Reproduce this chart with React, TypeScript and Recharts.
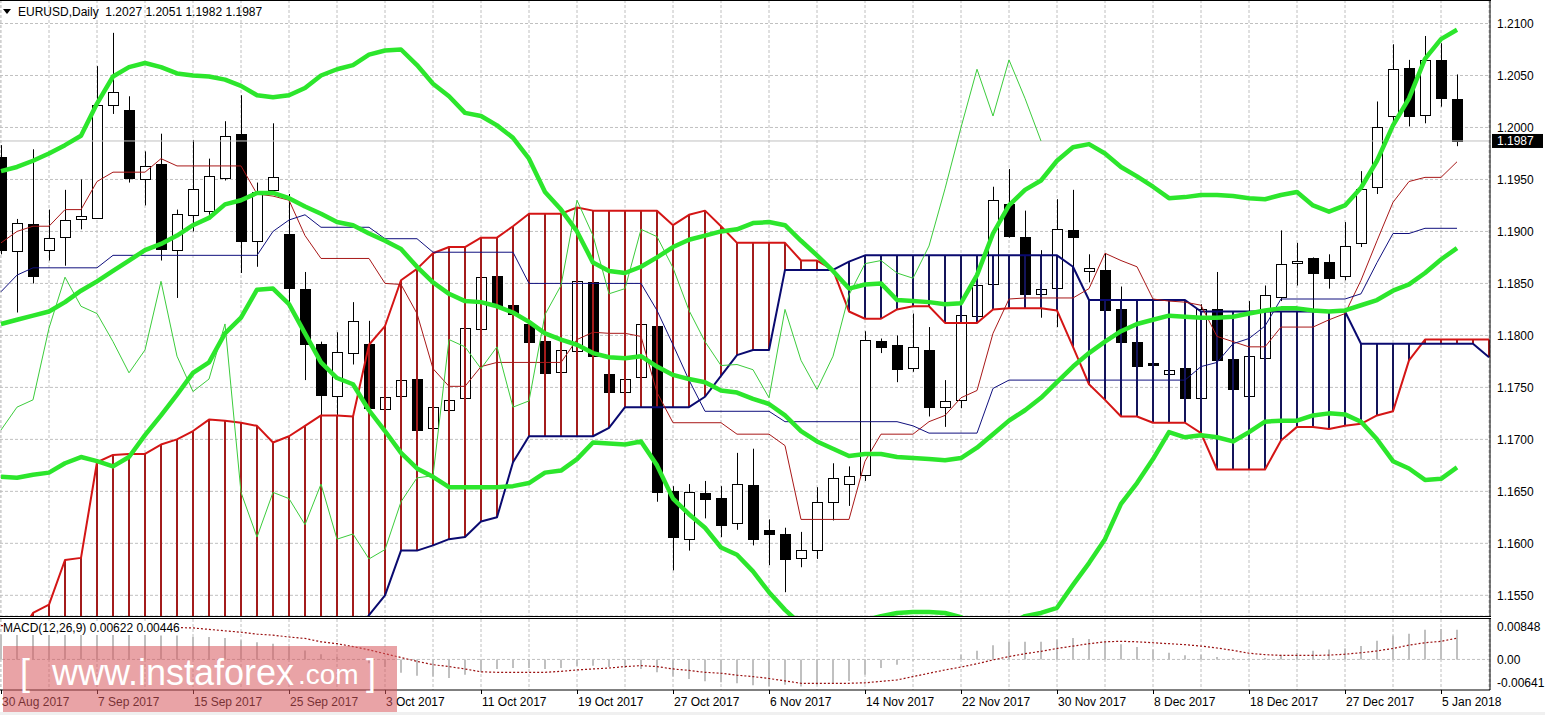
import React from 'react';
import { ComposedChart, Bar, Line, XAxis, YAxis, CartesianGrid, ReferenceLine } from 'recharts';

// EURUSD daily, 30 Aug 2017 .. 8 Jan 2018 (index 0 = 30 Aug)
const opens = [
  1.1972, 1.1881, 1.1907, 1.1882, 1.1895, 1.1912, 1.1913, 1.2022, 1.2017, 1.1950,
  1.1965, 1.1882, 1.1916, 1.1920, 1.1951, 1.1994, 1.1891, 1.1940, 1.1898, 1.1845,
  1.1792, 1.1742, 1.1783, 1.1792, 1.1729, 1.1742, 1.1758, 1.1711, 1.1728, 1.1740,
  1.1806, 1.1857, 1.1829, 1.1811, 1.1795, 1.1765, 1.1785, 1.1851, 1.1763, 1.1746,
  1.1760, 1.1809, 1.1650, 1.1604, 1.1648, 1.1644, 1.1620, 1.1656, 1.1613, 1.1609,
  1.1586, 1.1594, 1.1640, 1.1657, 1.1666, 1.1795, 1.1791, 1.1769, 1.1786, 1.1731,
  1.1738, 1.1819, 1.1849, 1.1926, 1.1895, 1.1840, 1.1846, 1.1901, 1.1862, 1.1863,
  1.1825, 1.1794, 1.1773, 1.1763, 1.1769, 1.1740, 1.1825, 1.1777, 1.1742, 1.1778,
  1.1837, 1.1870, 1.1874, 1.1871, 1.1857, 1.1889, 1.1943, 1.2011, 1.2057, 1.2012,
  1.2065, 1.2027,
];
const highs = [
  1.1983, 1.1912, 1.1979, 1.1921, 1.1940, 1.1950, 1.2059, 1.2091, 1.2030, 1.1977,
  1.1994, 1.1921, 1.1988, 1.1970, 1.2006, 1.2031, 1.1947, 1.2004, 1.1936, 1.1861,
  1.1794, 1.1803, 1.1832, 1.1814, 1.1770, 1.1790, 1.1768, 1.1735, 1.1760, 1.1809,
  1.1880, 1.1873, 1.1860, 1.1833, 1.1806, 1.1800, 1.1860, 1.1863, 1.1790, 1.1786,
  1.1829, 1.1837, 1.1655, 1.1657, 1.1660, 1.1655, 1.1687, 1.1691, 1.1623, 1.1615,
  1.1611, 1.1654, 1.1677, 1.1674, 1.1804, 1.1797, 1.1800, 1.1821, 1.1808, 1.1757,
  1.1821, 1.1865, 1.1943, 1.1960, 1.1920, 1.1882, 1.1931, 1.1940, 1.1878, 1.1879,
  1.1847, 1.1810, 1.1800, 1.1785, 1.1780, 1.1830, 1.1861, 1.1800, 1.1833, 1.1848,
  1.1901, 1.1889, 1.1875, 1.1878, 1.1909, 1.1958, 1.2025, 1.2080, 1.2065, 1.2088,
  1.2081, 1.2051,
];
const lows = [
  1.1878, 1.1822, 1.1850, 1.1872, 1.1867, 1.1902, 1.1912, 1.2013, 1.1947, 1.1925,
  1.1872, 1.1836, 1.1900, 1.1916, 1.1949, 1.1860, 1.1866, 1.1938, 1.1832, 1.1757,
  1.1723, 1.1723, 1.1772, 1.1729, 1.1718, 1.1728, 1.1703, 1.1669, 1.1714, 1.1733,
  1.1795, 1.1821, 1.1811, 1.1786, 1.1730, 1.1752, 1.1770, 1.1776, 1.1728, 1.1730,
  1.1738, 1.1640, 1.1574, 1.1593, 1.1624, 1.1606, 1.1613, 1.1598, 1.1579, 1.1553,
  1.1577, 1.1585, 1.1622, 1.1636, 1.1660, 1.1783, 1.1755, 1.1765, 1.1722, 1.1712,
  1.1730, 1.1815, 1.1845, 1.1894, 1.1835, 1.1817, 1.1808, 1.1858, 1.1851, 1.1820,
  1.1790, 1.1760, 1.1745, 1.1750, 1.1730, 1.1735, 1.1770, 1.1735, 1.1740, 1.1772,
  1.1833, 1.1848, 1.1823, 1.1845, 1.1853, 1.1885, 1.1936, 1.2005, 1.2001, 1.2004,
  1.2020, 1.1982,
];
const closes = [
  1.1882, 1.1908, 1.1857, 1.1894, 1.1911, 1.1915, 1.2022, 1.2034, 1.1951, 1.1963,
  1.1883, 1.1917, 1.1941, 1.1953, 1.1992, 1.1891, 1.1938, 1.1952, 1.1846, 1.1792,
  1.1743, 1.1784, 1.1814, 1.1730, 1.1741, 1.1757, 1.1709, 1.1731, 1.1738, 1.1807,
  1.1856, 1.1828, 1.1821, 1.1794, 1.1764, 1.1786, 1.1852, 1.1780, 1.1746, 1.1758,
  1.1811, 1.1649, 1.1606, 1.1649, 1.1643, 1.1618, 1.1657, 1.1604, 1.1609, 1.1585,
  1.1594, 1.1640, 1.1663, 1.1665, 1.1796, 1.1789, 1.1768, 1.1789, 1.1731, 1.1737,
  1.1820, 1.1848, 1.1930, 1.1896, 1.1840, 1.1845, 1.1902, 1.1895, 1.1865, 1.1824,
  1.1794, 1.1771, 1.1772, 1.1767, 1.1740, 1.1825, 1.1776, 1.1748, 1.1780, 1.1839,
  1.1869, 1.1872, 1.1860, 1.1855, 1.1886, 1.1941, 1.2000, 1.2056, 1.2011, 1.2065,
  1.2028, 1.1987,
];

// Ichimoku
const tenkan = [
  1.1889, 1.1900, 1.1905, 1.1905, 1.1921, 1.1921, 1.1948, 1.1957, 1.1957, 1.1957,
  1.1970, 1.1963, 1.1963, 1.1963, 1.1963, 1.1963, 1.1936, 1.1934, 1.1930, 1.1896,
  1.1874, 1.1874, 1.1874, 1.1874, 1.1850, 1.1849, 1.1821, 1.1768, 1.1751, 1.1751,
  1.1770, 1.1774, 1.1774, 1.1774, 1.1774, 1.1774, 1.1796, 1.1803, 1.1802, 1.1802,
  1.1799, 1.1745, 1.1716, 1.1716, 1.1716, 1.1716, 1.1705, 1.1705, 1.1705, 1.1694,
  1.1623, 1.1623, 1.1623, 1.1623, 1.1679, 1.1705, 1.1705, 1.1705, 1.1717, 1.1723,
  1.1740, 1.1747, 1.1802, 1.1835, 1.1836, 1.1836, 1.1836, 1.1836, 1.1845, 1.1879,
  1.1872, 1.1866, 1.1835, 1.1833, 1.1832, 1.1829, 1.1799, 1.1794, 1.1789, 1.1789,
  1.1808, 1.1808, 1.1808, 1.1815, 1.1821, 1.1853, 1.1891, 1.1928, 1.1948, 1.1952,
  1.1952, 1.1967,
];
const kijun = [
  1.1842, 1.1858, 1.1865, 1.1865, 1.1865, 1.1865, 1.1865, 1.1877, 1.1877, 1.1877,
  1.1877, 1.1877, 1.1877, 1.1877, 1.1877, 1.1877, 1.1877, 1.1900, 1.1911, 1.1916,
  1.1904, 1.1904, 1.1904, 1.1904, 1.1893, 1.1893, 1.1893, 1.1880, 1.1880, 1.1880,
  1.1880, 1.1880, 1.1880, 1.1850, 1.1850, 1.1850, 1.1850, 1.1850, 1.1850, 1.1850,
  1.1850, 1.1824, 1.1791, 1.1757, 1.1727, 1.1727, 1.1727, 1.1727, 1.1727, 1.1717,
  1.1717, 1.1717, 1.1717, 1.1717, 1.1717, 1.1717, 1.1717, 1.1713, 1.1706, 1.1706,
  1.1706, 1.1706, 1.1749, 1.1757, 1.1757, 1.1757, 1.1757, 1.1757, 1.1757, 1.1757,
  1.1757, 1.1757, 1.1757, 1.1757, 1.1757, 1.1770, 1.1774, 1.1792, 1.1797, 1.1809,
  1.1835, 1.1835, 1.1835, 1.1835, 1.1835, 1.1840, 1.1870, 1.1898, 1.1898, 1.1903,
  1.1903, 1.1903,
];
// senkou spans run two bars past the last candle inside the visible window
const senkouA = [
  1.1490, 1.1508, 1.1533, 1.1541, 1.1584, 1.1586, 1.1678, 1.1685, 1.1686, 1.1686,
  1.1695, 1.1700, 1.1708, 1.1719, 1.1718, 1.1716, 1.1713, 1.1697, 1.1703, 1.1713,
  1.1723, 1.1723, 1.1722, 1.1791, 1.1809, 1.1853, 1.1864, 1.1879, 1.1885, 1.1885,
  1.1894, 1.1894, 1.1905, 1.1917, 1.1917, 1.1917, 1.1923, 1.1920, 1.1920, 1.1920,
  1.1920, 1.1920, 1.1906, 1.1916, 1.1920, 1.1905, 1.1889, 1.1889, 1.1889, 1.1889,
  1.1872, 1.1872, 1.1863, 1.1823, 1.1816, 1.1816, 1.1825, 1.1828, 1.1828, 1.1812,
  1.1812, 1.1812, 1.1825, 1.1826, 1.1826, 1.1826, 1.1824, 1.1789, 1.1753, 1.1738,
  1.1722, 1.1722, 1.1716, 1.1716, 1.1716, 1.1706, 1.1671, 1.1671, 1.1671, 1.1671,
  1.1699, 1.1712, 1.1712, 1.1710, 1.1713, 1.1715, 1.1723, 1.1727, 1.1776, 1.1796,
  1.1796, 1.1796, 1.1796, 1.1796,
];
const senkouB = [
  1.1440, 1.1440, 1.1440, 1.1445, 1.1445, 1.1450, 1.1450, 1.1450, 1.1455, 1.1455,
  1.1460, 1.1460, 1.1465, 1.1465, 1.1470, 1.1470, 1.1475, 1.1480, 1.1480, 1.1485,
  1.1490, 1.1495, 1.1505, 1.1531, 1.1550, 1.1593, 1.1593, 1.1598, 1.1604, 1.1606,
  1.1621, 1.1625, 1.1678, 1.1703, 1.1703, 1.1703, 1.1703, 1.1703, 1.1711, 1.1731,
  1.1731, 1.1731, 1.1731, 1.1731, 1.1741, 1.1761, 1.1781, 1.1786, 1.1786, 1.1863,
  1.1863, 1.1863, 1.1863, 1.1871, 1.1877, 1.1877, 1.1877, 1.1877, 1.1877, 1.1877,
  1.1877, 1.1877, 1.1877, 1.1877, 1.1877, 1.1877, 1.1877, 1.1866, 1.1834, 1.1834,
  1.1834, 1.1834, 1.1834, 1.1834, 1.1834, 1.1823, 1.1823, 1.1823, 1.1823, 1.1823,
  1.1823, 1.1823, 1.1823, 1.1823, 1.1823, 1.1792, 1.1792, 1.1792, 1.1792, 1.1792,
  1.1792, 1.1792, 1.1792, 1.1779,
];
// chikou span, plotted 26 bars back
const chikou = [
  1.1709, 1.1731, 1.1738, 1.1807, 1.1856, 1.1828, 1.1821, 1.1794, 1.1764, 1.1786,
  1.1852, 1.1780, 1.1746, 1.1758, 1.1811, 1.1649, 1.1606, 1.1649, 1.1643, 1.1618,
  1.1657, 1.1604, 1.1609, 1.1585, 1.1594, 1.1640, 1.1663, 1.1665, 1.1796, 1.1789,
  1.1768, 1.1789, 1.1731, 1.1737, 1.1820, 1.1848, 1.1930, 1.1896, 1.1840, 1.1845,
  1.1902, 1.1895, 1.1865, 1.1824, 1.1794, 1.1771, 1.1772, 1.1767, 1.1740, 1.1825,
  1.1776, 1.1748, 1.1780, 1.1839, 1.1869, 1.1872, 1.1860, 1.1855, 1.1886, 1.1941,
  1.2000, 1.2056, 1.2011, 1.2065, 1.2028, 1.1987,
];

// Bollinger bands (20, 2)
const bbUpper = [
  1.1958, 1.1962, 1.1968, 1.1975, 1.1983, 1.1992, 1.2023, 1.2049, 1.2058, 1.2062,
  1.2058, 1.2052, 1.2050, 1.2049, 1.2046, 1.2040, 1.2031, 1.2029, 1.2031, 1.2038,
  1.2050, 1.2056, 1.2060, 1.2070, 1.2074, 1.2075, 1.2060, 1.2042, 1.2030, 1.2014,
  1.2011, 1.2002, 1.1990, 1.1970, 1.1938, 1.1921, 1.1900, 1.1870, 1.1862, 1.1860,
  1.1866, 1.1875, 1.1885, 1.1892, 1.1896, 1.1900, 1.1902, 1.1908, 1.1909, 1.1906,
  1.1891, 1.1877, 1.1862, 1.1845, 1.1849, 1.1850, 1.1834, 1.1833, 1.1832, 1.1830,
  1.1831, 1.1858, 1.1898, 1.1925, 1.1940, 1.1949, 1.1968, 1.1981, 1.1984, 1.1975,
  1.1962, 1.1953, 1.1943, 1.1932, 1.1933, 1.1935, 1.1935, 1.1934, 1.1932, 1.1931,
  1.1935, 1.1938, 1.1925, 1.1919, 1.1925, 1.1942, 1.1968, 1.2002, 1.2028, 1.2066,
  1.2085, 1.2094,
];
const bbMiddle = [
  1.1811, 1.1815, 1.1819, 1.1823, 1.1832, 1.1843, 1.1852, 1.1862, 1.1872, 1.1882,
  1.1888, 1.1896, 1.1906, 1.1913, 1.1926, 1.1930, 1.1937, 1.1937, 1.1932, 1.1924,
  1.1917, 1.1909, 1.1906, 1.1898, 1.1891, 1.1883, 1.1866, 1.1851, 1.1840, 1.1833,
  1.1832, 1.1828, 1.1822, 1.1813, 1.1802, 1.1796, 1.1791, 1.1783, 1.1779, 1.1778,
  1.1780, 1.1770, 1.1762, 1.1758, 1.1755, 1.1747, 1.1745, 1.1739, 1.1734, 1.1723,
  1.1708, 1.1698, 1.1691, 1.1684, 1.1686, 1.1686, 1.1683, 1.1682, 1.1681, 1.1680,
  1.1682, 1.1692, 1.1705, 1.1718, 1.1728, 1.1740, 1.1755, 1.1770, 1.1783, 1.1794,
  1.1804, 1.1811, 1.1815, 1.1819, 1.1818, 1.1817, 1.1817, 1.1818, 1.1821, 1.1824,
  1.1826, 1.1826, 1.1824, 1.1823, 1.1824, 1.1829, 1.1834, 1.1843, 1.1849, 1.1860,
  1.1873, 1.1884,
];
const bbLower = [
  1.1664, 1.1663, 1.1666, 1.1668, 1.1677, 1.1683, 1.1679, 1.1674, 1.1683, 1.1704,
  1.1723, 1.1743, 1.1764, 1.1774, 1.1802, 1.1817, 1.1844, 1.1845, 1.1830, 1.1802,
  1.1774, 1.1759, 1.1753, 1.1728, 1.1708, 1.1687, 1.1672, 1.1664, 1.1654, 1.1654,
  1.1654, 1.1654, 1.1655, 1.1658, 1.1668, 1.1670, 1.1681, 1.1697, 1.1696, 1.1695,
  1.1698, 1.1675, 1.1643, 1.1628, 1.1615, 1.1596, 1.1589, 1.1573, 1.1553, 1.1536,
  1.1522, 1.1510, 1.1505, 1.1515, 1.1526, 1.1530, 1.1533, 1.1534, 1.1534, 1.1533,
  1.1529, 1.1520, 1.1515, 1.1522, 1.1530, 1.1533, 1.1538, 1.1560, 1.1581, 1.1604,
  1.1638, 1.1658, 1.1681, 1.1707, 1.1702, 1.1704, 1.1702, 1.1698, 1.1707, 1.1717,
  1.1718, 1.1718, 1.1723, 1.1725, 1.1724, 1.1717, 1.1700, 1.1679, 1.1672, 1.1661,
  1.1662, 1.1673,
];

// MACD(12,26,9)
const macdMain = [
  0.0052, 0.0053, 0.0054, 0.0052, 0.0052, 0.0052, 0.0058, 0.0061, 0.0058, 0.0055,
  0.0050, 0.0050, 0.0047, 0.0047, 0.0045, 0.0040, 0.0036, 0.0033, 0.0027, 0.0019,
  0.0011, 0.0005, 0.0001, -0.0008, -0.0016, -0.0028, -0.0034, -0.0036, -0.0039, -0.0032,
  -0.0027, -0.0020, -0.0018, -0.0018, -0.0020, -0.0018, -0.0014, -0.0013, -0.0016, -0.0018,
  -0.0020, -0.0027, -0.0036, -0.0041, -0.0046, -0.0048, -0.0050, -0.0054, -0.0056, -0.0053,
  -0.0057, -0.0054, -0.0051, -0.0045, -0.0032, -0.0018, -0.0011, -0.0003, -0.0001, 0.0001,
  0.0010, 0.0018, 0.0030, 0.0037, 0.0037, 0.0037, 0.0042, 0.0045, 0.0043, 0.0037,
  0.0032, 0.0026, 0.0021, 0.0014, 0.0009, 0.0010, 0.0005, 0.0003, 0.0002, 0.0003,
  0.0010, 0.0014, 0.0018, 0.0021, 0.0023, 0.0028, 0.0039, 0.0050, 0.0054, 0.0062,
  0.0064, 0.00622,
];
const macdSignal = [
  0.0071, 0.0071, 0.0070, 0.0070, 0.0070, 0.0069, 0.0069, 0.0069, 0.0069, 0.0069,
  0.0068, 0.0067, 0.0066, 0.0063, 0.0060, 0.0057, 0.0053, 0.0051, 0.0047, 0.0044,
  0.0037, 0.0033, 0.0027, 0.0020, 0.0012, 0.0004, -0.0004, -0.0011, -0.0015, -0.0020,
  -0.0026, -0.0027, -0.0027, -0.0027, -0.0027, -0.0025, -0.0022, -0.0020, -0.0018, -0.0015,
  -0.0013, -0.0015, -0.0020, -0.0023, -0.0027, -0.0029, -0.0033, -0.0036, -0.0040, -0.0045,
  -0.0050, -0.0050, -0.0050, -0.0050, -0.0049, -0.0046, -0.0043, -0.0036, -0.0029, -0.0022,
  -0.0016, -0.0009, -0.0001, 0.0006, 0.0012, 0.0017, 0.0023, 0.0028, 0.0033, 0.0037,
  0.0038, 0.0037, 0.0035, 0.0033, 0.0031, 0.0028, 0.0024, 0.0019, 0.0013, 0.0010,
  0.00085, 0.00085, 0.00085, 0.0009, 0.0011, 0.0014, 0.0018, 0.0023, 0.0030, 0.0035,
  0.0038, 0.00446,
];

const dateLabels = [
  '30 Aug 2017', '7 Sep 2017', '15 Sep 2017', '25 Sep 2017', '3 Oct 2017', '11 Oct 2017',
  '19 Oct 2017', '27 Oct 2017', '6 Nov 2017', '14 Nov 2017', '22 Nov 2017', '30 Nov 2017',
  '8 Dec 2017', '18 Dec 2017', '27 Dec 2017', '5 Jan 2018',
];
const dateLabelBars = [0, 6, 12, 18, 24, 30, 36, 42, 48, 54, 60, 66, 72, 78, 84, 90];
const gridBars = [
  0, 3, 6, 9, 12, 15, 18, 21, 24, 27, 30, 33, 36, 39, 42, 45,
  48, 51, 54, 57, 60, 63, 66, 69, 72, 75, 78, 81, 84, 87, 90, 93,
];
const priceTicks = [1.155, 1.16, 1.165, 1.17, 1.175, 1.18, 1.185, 1.19, 1.195, 1.2, 1.205, 1.21];
const macdTicks = [0.00848, 0, -0.00641];
const macdTickLabels = ['0.00848', '0.00', '-0.00641'];

const FONT = '"Liberation Sans", Arial, Helvetica, sans-serif';
const GRID = '#c0c0c0';
const BB_GREEN = '#2ce62c';
const HATCH_RED = '#a31c1c';
const HATCH_NAVY = '#14145a';
const PAD = { left: -7, right: -7 };

const labelAt: Record<number, string> = {};
dateLabelBars.forEach((b, n) => { labelAt[b] = dateLabels[n]; });

const rows = senkouA.map((a, i) => {
  const b = senkouB[i];
  const has = opens[i] !== undefined;
  return {
    i,
    o: has ? opens[i] : null,
    c: has ? closes[i] : null,
    wick: has ? [lows[i], highs[i]] : null,
    body: has ? [Math.min(opens[i], closes[i]), Math.max(opens[i], closes[i])] : null,
    cloud: [Math.min(a, b), Math.max(a, b)],
    spanA: a,
    spanB: b,
    tenkan: tenkan[i] ?? null,
    kijun: kijun[i] ?? null,
    chikou: chikou[i] ?? null,
    bbUp: bbUpper[i] ?? null,
    bbMid: bbMiddle[i] ?? null,
    bbLow: bbLower[i] ?? null,
    macd: macdMain[i] ?? null,
    signal: macdSignal[i] ?? null,
  };
});

const last = closes.length - 1;

const WickShape = (props: any) => {
  const { x, y, width, height, payload } = props;
  if (!payload || payload.o == null || !Number.isFinite(y) || !Number.isFinite(height)) return <g />;
  const top = Math.min(y, y + height);
  const bottom = Math.max(y, y + height);
  const cx = Math.floor(x + width / 2) + 0.5;
  return <line x1={cx} x2={cx} y1={top} y2={bottom} stroke="#000" strokeWidth={1} />;
};

const BodyShape = (props: any) => {
  const { x, y, width, height, payload } = props;
  if (!payload || payload.o == null || !Number.isFinite(y) || !Number.isFinite(height)) return <g />;
  const top = Math.round(Math.min(y, y + height));
  const bottom = Math.round(Math.max(y, y + height));
  const bull = payload.c >= payload.o;
  return (
    <rect
      x={Math.round(x) + 0.5}
      y={top + 0.5}
      width={Math.round(width)}
      height={Math.max(bottom - top, 1)}
      fill={bull ? '#fff' : '#000'}
      stroke="#000"
      strokeWidth={1}
    />
  );
};

const HatchShape = (props: any) => {
  const { x, y, width, height, payload } = props;
  if (!payload || !Number.isFinite(y) || !Number.isFinite(height)) return <g />;
  const top = Math.min(y, y + height);
  const bottom = Math.max(y, y + height);
  return (
    <rect
      x={x}
      y={top}
      width={width}
      height={bottom - top}
      fill={payload.spanA >= payload.spanB ? HATCH_RED : HATCH_NAVY}
    />
  );
};

const PriceTag = (props: any) => {
  const vb = props.viewBox || {};
  const x = (vb.x || 0) + (vb.width || 0);
  const y = vb.y || 0;
  return (
    <g>
      <rect x={x + 2} y={y - 7} width={51} height={14} fill="#000" />
      <text x={x + 7} y={y + 4.5} fill="#fff" fontSize={12} fontFamily={FONT}>
        {closes[last].toFixed(4)}
      </text>
    </g>
  );
};

// x, y arrive in the MACD chart's own svg coordinates
const DateTick = (props: any) => {
  const { x, y, payload } = props;
  const label = labelAt[payload.value];
  if (!label) return <g />;
  return (
    <g>
      <line x1={x + 0.5} x2={x + 0.5} y1={y - 2} y2={y + 2} stroke="#000" />
      <text x={x + 1} y={y + 14} fontSize={12} fontFamily={FONT} fill="#000">{label}</text>
    </g>
  );
};

const MacdTick = (props: any) => {
  const { x, y, payload } = props;
  const n = macdTicks.indexOf(payload.value);
  const dy = n === 0 ? 12 : n === 2 ? -3 : 4.5;
  return (
    <text x={x} y={y + dy} fontSize={12} fontFamily={FONT} fill="#000">
      {n >= 0 ? macdTickLabels[n] : ''}
    </text>
  );
};

const line = (key: string, stroke: string, width: number, extra: any = {}) => (
  <Line
    key={key}
    dataKey={key}
    type="linear"
    stroke={stroke}
    strokeWidth={width}
    dot={false}
    activeDot={false}
    isAnimationActive={false}
    strokeLinejoin="round"
    {...extra}
  />
);

export default function App() {
  return (
    <div
      style={{
        position: 'absolute', left: 0, top: 0, width: 1545, height: 715,
        background: '#fff', overflow: 'hidden', fontFamily: FONT,
      }}
    >
      <div style={{ position: 'absolute', left: 0, top: 0 }}>
        <ComposedChart width={1545} height={616} data={rows} margin={{ top: 0, right: 0, bottom: 0, left: 0 }}>
          <CartesianGrid stroke={GRID} strokeDasharray="3 2" />
          <XAxis dataKey="i" type="category" scale="band" hide padding={PAD} ticks={gridBars} interval={0} />
          <XAxis xAxisId="w" dataKey="i" type="category" scale="band" hide padding={PAD} />
          <XAxis xAxisId="b" dataKey="i" type="category" scale="band" hide padding={PAD} />
          <YAxis
            orientation="right"
            width={55}
            domain={[1.15301, 1.21226]}
            allowDataOverflow
            ticks={priceTicks}
            interval={0}
            tickFormatter={(v: number) => v.toFixed(4)}
            axisLine={{ stroke: '#000' }}
            tickLine={false}
            tickSize={0}
            tickMargin={7}
            tick={{ fill: '#000', fontSize: 12, fontFamily: FONT }}
          />
          <ReferenceLine y={closes[last]} stroke={GRID} strokeWidth={1} label={(p: any) => <PriceTag {...p} />} />
          <Bar xAxisId="w" dataKey="wick" barSize={2} shape={<WickShape />} isAnimationActive={false} />
          <Bar xAxisId="b" dataKey="body" barSize={10} shape={<BodyShape />} isAnimationActive={false} />
          <Bar dataKey="cloud" barSize={2} shape={<HatchShape />} isAnimationActive={false} />
          {line('spanA', '#d41515', 2)}
          {line('spanB', '#0a0a70', 2)}
          {line('tenkan', '#a81818', 1)}
          {line('kijun', '#10107e', 1)}
          {line('chikou', '#3ccc3c', 1)}
          {line('bbUp', BB_GREEN, 4.5)}
          {line('bbMid', BB_GREEN, 4.5)}
          {line('bbLow', BB_GREEN, 4.5)}
        </ComposedChart>
      </div>

      <div style={{ position: 'absolute', left: 0, top: 619 }}>
        <ComposedChart width={1545} height={96} data={rows} margin={{ top: 0, right: 0, bottom: 0, left: 0 }}>
          <CartesianGrid stroke={GRID} strokeDasharray="3 2" horizontal={false} />
          <XAxis
            dataKey="i"
            type="category"
            scale="band"
            padding={PAD}
            ticks={gridBars}
            interval={0}
            height={25}
            axisLine={{ stroke: '#000' }}
            tickLine={false}
            tickSize={0}
            tickMargin={2}
            tick={<DateTick />}
          />
          <YAxis
            orientation="right"
            width={55}
            domain={[-0.00641, 0.00848]}
            allowDataOverflow
            ticks={macdTicks}
            interval={0}
            axisLine={{ stroke: '#000' }}
            tickLine={false}
            tickSize={0}
            tickMargin={7}
            tick={<MacdTick />}
          />
          <ReferenceLine y={0} stroke={GRID} strokeDasharray="3 2" />
          <Bar dataKey="macd" fill="#c0c0c0" barSize={2} isAnimationActive={false} />
          {line('signal', '#9a1010', 1.2, { strokeDasharray: '2 2' })}
        </ComposedChart>
      </div>

      {/* frame lines */}
      <div style={{ position: 'absolute', left: 0, top: 0, width: 1491, height: 1, background: '#000' }} />
      <div style={{ position: 'absolute', left: 0, top: 616, width: 1491, height: 1, background: '#000' }} />
      <div style={{ position: 'absolute', left: 0, top: 618, width: 1491, height: 1, background: '#000' }} />
      <div style={{ position: 'absolute', left: 0, top: 712, width: 1545, height: 3, background: '#f0f0f0' }} />

      {/* header */}
      <div
        style={{
          position: 'absolute', left: 3, top: 9, width: 0, height: 0,
          borderLeft: '4px solid transparent', borderRight: '4px solid transparent', borderTop: '5px solid #000',
        }}
      />
      <div style={{ position: 'absolute', left: 18, top: 5, fontSize: 12, whiteSpace: 'pre', color: '#000' }}>
        {`EURUSD,Daily  ${opens[last].toFixed(4)} ${highs[last].toFixed(4)} ${lows[last].toFixed(4)} ${closes[last].toFixed(4)}`}
      </div>
      <div
        style={{
          position: 'absolute', left: 3, top: 621, fontSize: 12, whiteSpace: 'pre', color: '#000',
          background: '#fff', lineHeight: '14px',
        }}
      >
        {`MACD(12,26,9) ${macdMain[last].toFixed(5)} ${macdSignal[last].toFixed(5)}`}
      </div>

      {/* watermark */}
      <div style={{ position: 'absolute', left: 3, top: 646, width: 394, height: 66, background: 'rgba(215,88,93,0.55)' }} />
      <div style={{ position: 'absolute', left: 20, top: 655, fontSize: 36, lineHeight: '36px', color: '#fff' }}>[</div>
      <div style={{ position: 'absolute', left: 52, top: 655, fontSize: 36, lineHeight: '36px', color: '#fff', whiteSpace: 'pre' }}>
        www.instaforex
      </div>
      <div style={{ position: 'absolute', left: 298, top: 661, fontSize: 28, lineHeight: '28px', color: '#fff' }}>.com</div>
      <div style={{ position: 'absolute', left: 366, top: 655, fontSize: 36, lineHeight: '36px', color: '#fff' }}>]</div>
    </div>
  );
}
